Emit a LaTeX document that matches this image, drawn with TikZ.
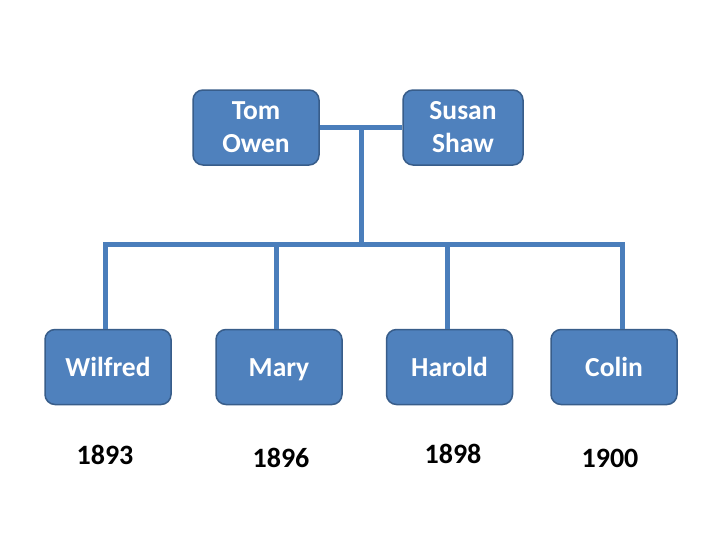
\documentclass[tikz,border=0pt]{standalone}
\usepackage{fontspec}
\setmainfont{Carlito}
\definecolor{boxfill}{HTML}{4F81BD}
\definecolor{boxedge}{HTML}{385D8A}
\definecolor{linec}{HTML}{4A7EBB}
\begin{document}
\begin{tikzpicture}[x=1pt,y=-1pt,
  person/.style={draw=boxedge, fill=boxfill, line width=1.5pt, rounded corners=10pt,
    text=white, font=\fontsize{27.5}{33}\selectfont\bfseries, align=center, inner sep=0pt,
    minimum width=126pt, minimum height=75pt},
  child/.style={person, text height=20pt, text depth=2pt},
  year/.style={font=\fontsize{28}{30}\selectfont\bfseries, text=black, inner sep=0pt},
  link/.style={draw=linec, line width=5pt}]
\useasboundingbox (0,0) rectangle (728,546);
\fill[white] (0,0) rectangle (728,546);
\node[person] (tom) at (256,127.5) {Tom\\Owen};
\node[person, minimum width=120pt] (susan) at (463,127.5) {Susan\\Shaw};
\node[child] (wil) at (108,367) {Wilfred};
\node[child] (mary) at (279,367) {Mary};
\node[child] (har) at (449.5,367) {Harold};
\node[child] (col) at (614,367) {Colin};
\node[year] (y1) at (105,455) {1893};
\node[year] (y2) at (281,458) {1896};
\node[year] (y3) at (453,454) {1898};
\node[year] (y4) at (610,458) {1900};
\coordinate (mid) at (361,128);
\coordinate (bus) at (361,244);
\draw[link] (tom.east) -- (susan.west);
\draw[link] (mid) -- (bus);
\draw[link, line cap=rect] ([xshift=-3pt]wil.north |- bus) -- ([xshift=8pt]col.north |- bus);
\draw[link] ([xshift=-3pt]wil.north |- bus) -- ([xshift=-3pt]wil.north);
\draw[link] ([xshift=-3pt]mary.north |- bus) -- ([xshift=-3pt]mary.north);
\draw[link] ([xshift=-2.5pt]har.north |- bus) -- ([xshift=-2.5pt]har.north);
\draw[link] ([xshift=8pt]col.north |- bus) -- ([xshift=8pt]col.north);
\end{tikzpicture}
\end{document}
